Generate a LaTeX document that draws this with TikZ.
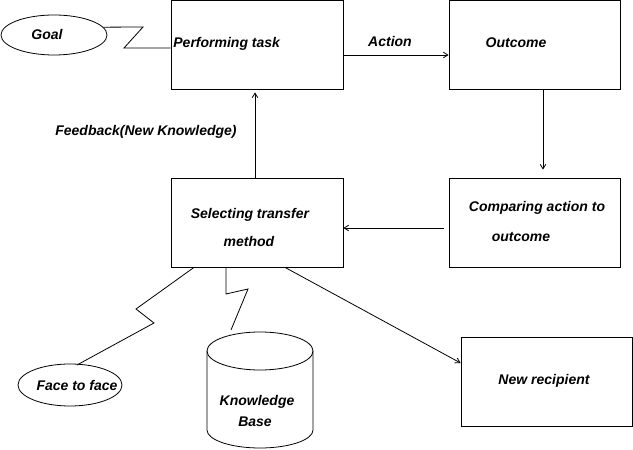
\documentclass[tikz,border=0pt]{standalone}
\usepackage{fontspec}
\setmainfont{Liberation Sans}
\usetikzlibrary{arrows.meta,shapes.geometric}
\begin{document}
\begin{tikzpicture}[x=1pt,y=1pt,
  every path/.style={line width=0.8pt},
  box/.style={draw,minimum width=172pt,minimum height=89pt,inner sep=0pt},
  oval/.style={draw,ellipse,inner sep=0pt},
  txt/.style={font=\fontsize{14}{16}\selectfont\bfseries\itshape,inner sep=0pt,text height=10pt,text depth=0pt},
  arr/.style={-{Straight Barb[length=4.5pt,width=5.5pt]}},
]
\useasboundingbox (0,0) rectangle (633,450);
% boxes
\node[box] (perf) at (257,405.5) {};
\node[box,minimum width=171pt] (out) at (534.5,405.5) {};
\node[box,minimum width=171pt] (comp) at (534.5,227.5) {};
\node[box] (sel) at (257,227.5) {};
\node[box,minimum width=171pt] (rec) at (546.5,68.5) {};
% ellipses
\node[oval,minimum width=106pt,minimum height=40pt] (goal) at (54,415) {};
\node[oval,minimum width=104pt,minimum height=42pt] (face) at (70,65) {};
% cylinder
\draw (260,99) ellipse [x radius=53pt, y radius=19pt];
\draw (207,99) -- (207,20) arc[start angle=180,end angle=360,x radius=53pt,y radius=18pt] -- (313,99);
\coordinate (kbtop) at (231,120);
\coordinate (facetop) at (77,85);
% texts
\node[txt] (tgoal) at (47,415) {Goal};
\node[txt,anchor=west] (tperf) at (173,407) {Performing task};
\node[txt] (tact) at (390,408) {Action};
\node[txt] (tout) at (516,407) {Outcome};
\node[txt] (tfb) at (146,319) {Feedback(New Knowledge)};
\node[txt] (tsel1) at (250,236) {Selecting transfer};
\node[txt] (tsel2) at (249,208) {method};
\node[txt] (tcomp1) at (537,243) {Comparing action to};
\node[txt] (tcomp2) at (521,213) {outcome};
\node[txt] (trec) at (544,70) {New recipient};
\node[txt] (tface) at (77,64) {Face to face};
\node[txt] (tkb1) at (257,49) {Knowledge};
\node[txt] (tkb2) at (255,28) {Base};
% connectors
\draw (goal.9.3) -- (143,423) -- (124,402) -- (perf.west |- 0,402);
\draw[arr] (perf.east |- 0,395) -- (out.west |- 0,395);
\draw[arr,shorten >=8pt] (out.south -| 543,0) -- (comp.north -| 543,0);
\draw[arr] ([xshift=-5pt]comp.west |- 0,222) -- (sel.east |- 0,222);
\draw[arr,shorten >=3pt] (sel.north -| 255,0) -- (perf.south -| 255,0);
\draw[arr] (sel.south -| 285,0) -- (rec.west |- 0,87);
\draw (sel.south -| 194,0) -- (136,141) -- (154,127) -- (facetop);
\draw (sel.south -| 226,0) -- (226,156) -- (248,161) -- (kbtop);
\end{tikzpicture}
\end{document}
